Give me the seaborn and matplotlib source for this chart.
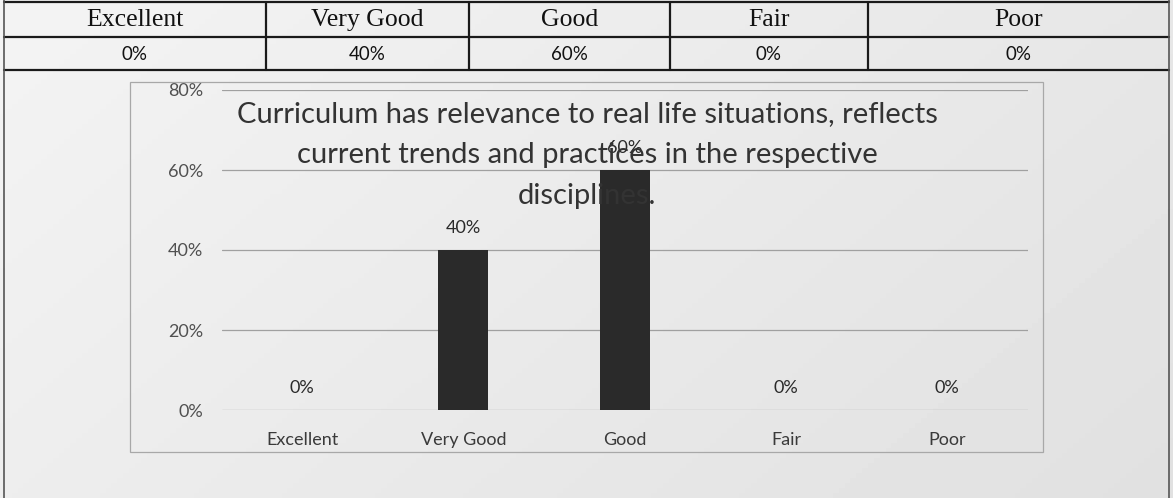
import numpy as np
import pandas as pd
import matplotlib
matplotlib.use("Agg")
import matplotlib.pyplot as plt
from matplotlib.patches import Rectangle
from matplotlib.lines import Line2D
import seaborn as sns

# Survey response data
categories = ["Excellent", "Very Good", "Good", "Fair", "Poor"]
shares = [0.0, 0.40, 0.60, 0.0, 0.0]
table_values = ["0%", "40%", "60%", "0%", "0%"]
y_ticks = [0.0, 0.2, 0.4, 0.6, 0.8]
y_tick_labels = ["0%", "20%", "40%", "60%", "80%"]
title = ("Curriculum has relevance to real life situations, reflects\n"
         "current trends and practices in the respective\n"
         "disciplines.")

sns.set_theme(style="white")
plt.rcParams["font.family"] = ["Lato", "DejaVu Sans"]

W, H = 1173, 498
fig = plt.figure(figsize=(W / 100, H / 100), dpi=100)
fig.patch.set_facecolor("#e6e6e6")

# paper tone: lighter towards the upper left
bg = fig.add_axes([0, 0, 1, 1], zorder=-5)
gx, gy = np.meshgrid(np.linspace(0, 1, 200), np.linspace(0, 1, 100))
tone = 0.955 - 0.05 * gx - 0.025 * gy
bg.imshow(tone, cmap="gray", vmin=0, vmax=1, aspect="auto", extent=[0, 1, 0, 1])
bg.set_axis_off()


def fx(px):
    return px / W


def fy(py):
    return 1 - py / H


# ---- summary table at the top ----
col_edges = [4, 266, 469, 670, 868, 1169]
row_edges = [2, 37, 70]
line_kw = dict(color="#1a1a1a", lw=1.6, transform=fig.transFigure)
for ry in row_edges:
    fig.add_artist(Line2D([fx(col_edges[0]), fx(col_edges[-1])], [fy(ry), fy(ry)], **line_kw))
for cx in col_edges[1:-1]:
    fig.add_artist(Line2D([fx(cx), fx(cx)], [fy(row_edges[0]), fy(row_edges[-1])], **line_kw))
for cx in (col_edges[0], col_edges[-1]):
    fig.add_artist(Line2D([fx(cx), fx(cx)], [fy(0), fy(H)], color="#555555", lw=1.2,
                          transform=fig.transFigure))

for i, (name, val) in enumerate(zip(categories, table_values)):
    cx = (col_edges[i] + col_edges[i + 1]) / 2
    fig.text(fx(cx), fy(20), name, ha="center", va="center", fontsize=18.5,
             family="Liberation Serif", color="#111111")
    fig.text(fx(cx), fy(55), val, ha="center", va="center", fontsize=13.5,
             color="#111111")

# ---- chart frame ----
fig.add_artist(Rectangle((fx(130), fy(452)), fx(1043) - fx(130), fy(82) - fy(452),
                         transform=fig.transFigure, fill=False, ec="#a8a8a8", lw=0.9))

# ---- bar chart ----
ax = fig.add_axes([fx(221.5), fy(410), fx(1028) - fx(221.5), fy(90) - fy(410)])
ax.set_facecolor("none")
df = pd.DataFrame({"category": categories, "share": shares})
sns.barplot(data=df, x="category", y="share", color="#2a2a2a", width=0.31,
            saturation=1, linewidth=0, ax=ax, zorder=3)
ax.set_ylim(0, 0.8)
ax.set_yticks(y_ticks)
ax.set_yticklabels(y_tick_labels)
ax.set_xlabel("")
ax.set_ylabel("")
ax.grid(axis="y", color="#a0a0a0", lw=0.9, zorder=0)
ax.grid(axis="x", visible=False)
for s in ax.spines.values():
    s.set_visible(False)
ax.tick_params(axis="both", length=0, labelsize=13, labelcolor="#3a3a3a")
ax.tick_params(axis="y", pad=13, labelcolor="#505050")
ax.tick_params(axis="x", pad=16)

for i, v in enumerate(shares):
    ax.annotate(f"{v:.0%}", (i, v), xytext=(0, 15.5), textcoords="offset points",
                ha="center", va="center", fontsize=13, color="#2a2a2a", zorder=4)

fig.text(fx(587), fy(155), title, ha="center", va="center", fontsize=21,
         color="#333333", linespacing=1.72, zorder=10)

fig.savefig("out.png", dpi=100, facecolor=fig.get_facecolor())
